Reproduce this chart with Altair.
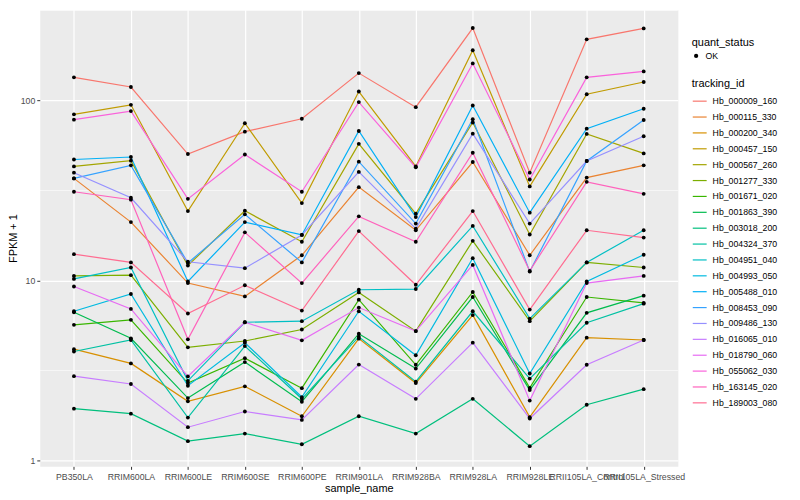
import altair as alt
import pandas as pd

samples = ["PB350LA", "RRIM600LA", "RRIM600LE", "RRIM600SE", "RRIM600PE",
           "RRIM901LA", "RRIM928BA", "RRIM928LA", "RRIM928LE",
           "RRII105LA_Control", "RRII105LA_Stressed"]

tracking_ids = ["Hb_000009_160", "Hb_000115_330", "Hb_000200_340", "Hb_000457_150",
                "Hb_000567_260", "Hb_001277_330", "Hb_001671_020", "Hb_001863_390",
                "Hb_003018_200", "Hb_004324_370", "Hb_004951_040", "Hb_004993_050",
                "Hb_005488_010", "Hb_008453_090", "Hb_009486_130", "Hb_016065_010",
                "Hb_018790_060", "Hb_055062_030", "Hb_163145_020", "Hb_189003_080"]

palette = ["#F8766D", "#EA8331", "#D89000", "#C09B00", "#A3A500", "#7CAE00",
           "#39B600", "#00BB4E", "#00BF7D", "#00C1A3", "#00BFC4", "#00BAE0",
           "#00B0F6", "#35A2FF", "#9590FF", "#C77CFF", "#E76BF3", "#FA62DB",
           "#FF62BC", "#FF6C91"]

# FPKM + 1 per sample (in the order of `samples`)
hb_000009_160 = [134.4, 118.8, 50.4, 67.1, 79.1, 141.9, 91.8, 252.6, 39.7, 218.6, 251.3]
hb_000115_330 = [36.9, 21.1, 9.67, 8.15, 13.8, 33.0, 19.0, 45.5, 13.8, 37.3, 43.6]
hb_000200_340 = [4.15, 3.46, 2.13, 2.58, 1.76, 4.75, 2.69, 6.42, 1.74, 4.81, 4.67]
hb_000457_150 = [83.7, 94.6, 24.3, 74.7, 26.9, 112.1, 43.0, 190.1, 33.3, 108.3, 126.6]
hb_000567_260 = [43.0, 46.3, 12.1, 24.4, 16.4, 57.4, 23.5, 75.4, 18.0, 65.2, 50.8]
hb_001277_330 = [10.6, 10.7, 4.25, 4.61, 5.34, 8.58, 5.23, 16.6, 5.94, 12.6, 11.8]
hb_001671_020 = [5.67, 6.04, 2.69, 3.70, 2.52, 7.82, 3.40, 8.63, 2.53, 8.09, 7.50]
hb_001863_390 = [6.66, 4.77, 2.22, 3.52, 2.12, 5.06, 3.24, 8.09, 2.46, 6.61, 8.23]
hb_003018_200 = [1.94, 1.82, 1.28, 1.41, 1.23, 1.76, 1.41, 2.20, 1.20, 2.04, 2.49]
hb_004324_370 = [4.03, 4.67, 1.73, 4.32, 2.20, 4.87, 2.74, 6.74, 2.85, 5.82, 7.43]
hb_004951_040 = [10.2, 11.8, 2.77, 5.86, 5.94, 8.88, 8.96, 20.1, 6.14, 12.6, 19.0]
hb_004993_050 = [6.74, 8.41, 2.60, 4.51, 2.25, 6.74, 3.84, 13.3, 3.04, 9.87, 13.9]
hb_005488_010 = [47.0, 48.5, 9.87, 21.1, 17.9, 67.7, 22.5, 93.8, 23.8, 69.7, 89.9]
hb_008453_090 = [36.9, 43.6, 12.5, 23.3, 12.6, 45.7, 20.7, 78.6, 11.2, 46.1, 77.9]
hb_009486_130 = [39.7, 28.8, 12.7, 11.7, 17.9, 40.1, 19.4, 65.4, 20.7, 46.1, 63.3]
hb_016065_010 = [2.94, 2.66, 1.53, 1.87, 1.68, 3.41, 2.20, 4.51, 1.71, 3.40, 4.67]
hb_018790_060 = [9.26, 6.95, 2.93, 5.86, 4.65, 7.07, 5.23, 12.2, 2.15, 9.67, 10.6]
hb_055062_030 = [78.2, 87.3, 28.4, 50.1, 31.1, 97.9, 42.5, 160.6, 36.4, 134.4, 145.0]
hb_163145_020 = [31.1, 28.1, 4.71, 18.5, 9.67, 22.7, 16.4, 51.2, 11.3, 35.3, 30.3]
hb_189003_080 = [14.0, 12.6, 6.55, 9.40, 6.80, 18.8, 9.46, 24.3, 6.89, 19.0, 17.3]

series = [hb_000009_160, hb_000115_330, hb_000200_340, hb_000457_150, hb_000567_260,
          hb_001277_330, hb_001671_020, hb_001863_390, hb_003018_200, hb_004324_370,
          hb_004951_040, hb_004993_050, hb_005488_010, hb_008453_090, hb_009486_130,
          hb_016065_010, hb_018790_060, hb_055062_030, hb_163145_020, hb_189003_080]

y_breaks = [1, 10, 100]
y_minor = [3.1623, 31.623, 316.23]
y_domain = [0.927, 318.7]

rows = []
for tid, vals in zip(tracking_ids, series):
    for i, (s, v) in enumerate(zip(samples, vals)):
        rows.append({"tracking_id": tid, "sample_name": s, "idx": i,
                     "fpkm": v, "quant_status": "OK"})
df = pd.DataFrame(rows)

FONT = "Liberation Sans"

x_enc = alt.X("sample_name:N", sort=samples,
              scale=alt.Scale(type="point", padding=0.6),
              axis=alt.Axis(title="sample_name", labelAngle=0, labelOverlap=False,
                            grid=True, gridColor="white", gridWidth=1.2,
                            domain=False, tickColor="#333333", tickSize=3, tickWidth=1,
                            labelFontSize=8.8, labelColor="#4D4D4D", labelPadding=3,
                            labelFlush=False, labelBound=False,
                            titleFontSize=11, titleFontWeight="normal", titleColor="black",
                            titlePadding=2))
y_enc = alt.Y("fpkm:Q",
              scale=alt.Scale(type="log", domain=y_domain, nice=False),
              axis=alt.Axis(title="FPKM + 1", values=y_breaks, format="d",
                            grid=True, gridColor="white", gridWidth=1.2,
                            domain=False, tickColor="#333333", tickSize=3, tickWidth=1,
                            labelFontSize=8.8, labelColor="#4D4D4D", labelPadding=2,
                            titleFontSize=11, titleFontWeight="normal", titleColor="black",
                            titlePadding=1.5))

minor = alt.Chart(pd.DataFrame({"minor": y_minor})).mark_rule(
    color="white", strokeWidth=0.6).encode(
    y=alt.Y("minor:Q", scale=alt.Scale(type="log", domain=y_domain, nice=False)))

lines = alt.Chart(df).mark_line(strokeWidth=1.2).encode(
    x=x_enc, y=y_enc,
    stroke=alt.Stroke("tracking_id:N", sort=tracking_ids,
                      scale=alt.Scale(domain=tracking_ids, range=palette),
                      legend=alt.Legend(title="tracking_id", orient="none",
                                        legendX=657, legendY=69,
                                        symbolType="stroke", symbolSize=196,
                                        symbolStrokeWidth=1.2, rowPadding=3.0,
                                        labelFontSize=8.8, labelColor="black",
                                        titleFontSize=11, titleFontWeight="normal",
                                        titleColor="black", titlePadding=4,
                                        labelOffset=5)),
    order=alt.Order("idx:Q"))

points = alt.Chart(df).mark_circle(size=15, opacity=1).encode(
    x=x_enc, y=y_enc,
    color=alt.Color("quant_status:N",
                    scale=alt.Scale(domain=["OK"], range=["black"]),
                    legend=alt.Legend(title="quant_status", orient="none",
                                      legendX=657, legendY=27,
                                      symbolType="circle", symbolSize=18,
                                      labelFontSize=8.8, labelColor="black",
                                      titleFontSize=11, titleFontWeight="normal",
                                      titleColor="black", titlePadding=4,
                                      labelOffset=5)))

chart = alt.layer(minor, lines, points).properties(
    width=643, height=460,
    autosize=alt.AutoSizeParams(type="none"),
    padding={"left": 32, "top": 0, "right": 115, "bottom": 30},
).configure(font=FONT).configure_view(fill="#EBEBEB", stroke="transparent")

chart.save("out.html", embed_options={"renderer": "svg", "actions": False})
